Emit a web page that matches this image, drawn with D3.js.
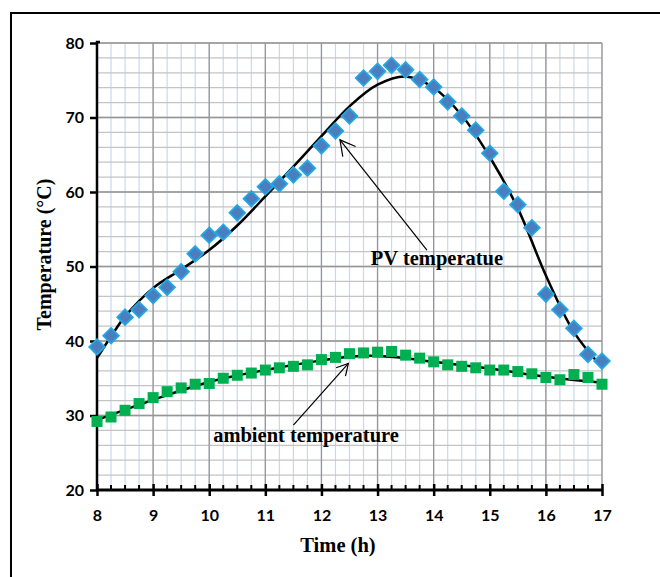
<!DOCTYPE html>
<html>
<head>
<meta charset="utf-8">
<script src="https://cdn.jsdelivr.net/npm/d3@7"></script>
<style>
  body { margin: 0; background: #fff; }
</style>
</head>
<body>
<div id="chart"></div>
<script>
// measured points, every quarter hour
var hours = [8, 8.25, 8.5, 8.75, 9, 9.25, 9.5, 9.75, 10, 10.25, 10.5, 10.75, 11, 11.25, 11.5, 11.75,
  12, 12.25, 12.5, 12.75, 13, 13.25, 13.5, 13.75, 14, 14.25, 14.5, 14.75, 15, 15.25, 15.5, 15.75,
  16, 16.25, 16.5, 16.75, 17];
var pvTemp = [39.2, 40.7, 43.2, 44.2, 46.1, 47.2, 49.3, 51.7, 54.2, 54.6, 57.2, 59.1, 60.7, 61.1, 62.3, 63.2,
  66.2, 68.2, 70.2, 75.3, 76.2, 77.0, 76.4, 75.1, 74.1, 72.1, 70.2, 68.3, 65.2, 60.1, 58.3, 55.2,
  46.3, 44.2, 41.7, 38.2, 37.3];
var ambTemp = [29.2, 29.8, 30.7, 31.6, 32.4, 33.2, 33.7, 34.2, 34.3, 35.0, 35.4, 35.7, 36.1, 36.4, 36.6, 36.8,
  37.5, 37.8, 38.3, 38.4, 38.5, 38.6, 38.1, 37.7, 37.2, 36.8, 36.6, 36.4, 36.1, 36.1, 35.9, 35.6,
  35.1, 34.8, 35.5, 35.1, 34.2];

// trend lines
var pvFitHours = [8, 8.25, 8.5, 9, 9.5, 10, 10.5, 11, 11.5, 12, 12.5, 13, 13.5, 14, 14.5, 15, 15.5, 16, 16.5, 17];
var pvFit = [37.7, 40.6, 43.3, 47.1, 49.6, 52.2, 55.5, 59.4, 63.4, 67.5, 71.5, 74.4, 75.5, 74.0, 70.3, 64.7, 57.8, 48.8, 41.2, 36.5];
var ambFitHours = [8, 9, 10, 11, 12, 12.5, 13, 13.5, 14, 15, 16, 17];
var ambFit = [29.4, 32.1, 34.5, 36.1, 37.4, 37.9, 38.0, 37.7, 37.2, 36.3, 35.2, 34.4];

var xTicks = [8, 9, 10, 11, 12, 13, 14, 15, 16, 17];
var yTicks = [20, 30, 40, 50, 60, 70, 80];

// annotations: [label, label x, label y, arrow tail x, y, arrow tip x, y] in data units
var pvNote = ["PV temperatue", 12.88, 50.2, 13.88, 52.2, 12.33, 67.0];
var ambNote = ["ambient temperature", 10.07, 26.5, 11.5, 28.7, 12.48, 37.0];

var W = 660, H = 577;
var margin = {top: 43, right: 58, bottom: 87, left: 97};

var svg = d3.select("#chart")
    .append("svg")
    .attr("width", W)
    .attr("height", H);

// outer frame (only left and top visible)
svg.append("rect")
    .attr("x", 11).attr("y", 13)
    .attr("width", 800).attr("height", 800)
    .attr("fill", "none")
    .attr("stroke", "#000")
    .attr("stroke-width", 2);

var x = d3.scaleLinear().domain([8, 17]).range([margin.left, W - margin.right]);
var y = d3.scaleLinear().domain([20, 80]).range([H - margin.bottom, margin.top]);

var g = svg.append("g");

// grid
var minorX = d3.range(8, 17.001, 0.25);
var minorY = d3.range(20, 80.001, 2);

g.selectAll(".vminor").data(minorX).enter().append("line")
    .attr("x1", d => x(d)).attr("x2", d => x(d))
    .attr("y1", y(20)).attr("y2", y(80))
    .attr("stroke", "#c9d8ee").attr("stroke-width", 1.2);
g.selectAll(".hminor").data(minorY).enter().append("line")
    .attr("x1", x(8)).attr("x2", x(17))
    .attr("y1", d => y(d)).attr("y2", d => y(d))
    .attr("stroke", "#c4c4c4").attr("stroke-width", 1.3);
g.selectAll(".vmajor").data(xTicks).enter().append("line")
    .attr("x1", d => x(d)).attr("x2", d => x(d))
    .attr("y1", y(20)).attr("y2", y(80))
    .attr("stroke", "#969696").attr("stroke-width", 1.3);
g.selectAll(".hmajor").data(yTicks).enter().append("line")
    .attr("x1", x(8)).attr("x2", x(17))
    .attr("y1", d => y(d)).attr("y2", d => y(d))
    .attr("stroke", "#969696").attr("stroke-width", 1.3);

// axes
var tickFont = "Lato, 'Open Sans', sans-serif";
var serif = "'Liberation Serif', 'Times New Roman', serif";

var yAxis = svg.append("g")
    .attr("transform", "translate(" + x(8) + ",0)")
    .call(d3.axisLeft(y).tickValues(yTicks).tickSize(7).tickPadding(6));
yAxis.select(".domain").attr("stroke-width", 2.5).attr("d", "M0," + y(20) + "V" + (y(80) - 1) + "h3");
yAxis.selectAll(".tick line").attr("stroke-width", 2.5);
yAxis.selectAll("text")
    .attr("font-family", tickFont).attr("font-weight", "bold")
    .attr("font-size", 16).attr("fill", "#000");

var xAxis = svg.append("g")
    .attr("transform", "translate(0," + y(20) + ")")
    .call(d3.axisBottom(x).tickValues(xTicks).tickSize(6).tickPadding(14));
xAxis.select(".domain").attr("stroke-width", 3).attr("d", "M" + x(8) + ",0H" + x(17));
xAxis.selectAll(".tick line").attr("y1", -6).attr("stroke-width", 2.5);
xAxis.selectAll("text")
    .attr("font-family", tickFont).attr("font-weight", "bold")
    .attr("font-size", 16).attr("fill", "#000");

// minor ticks on time axis (upward)
xAxis.selectAll(".mtick").data(minorX.filter(d => d % 1 !== 0)).enter().append("line")
    .attr("x1", d => x(d)).attr("x2", d => x(d))
    .attr("y1", 0).attr("y2", -5)
    .attr("stroke", "#000").attr("stroke-width", 2);

// axis titles
svg.append("text")
    .attr("x", 338).attr("y", 552)
    .attr("text-anchor", "middle")
    .attr("font-family", serif)
    .attr("font-weight", "bold").attr("font-size", 20.5)
    .text("Time (h)");

svg.append("text")
    .attr("transform", "translate(51," + ((y(20) + y(80)) / 2 - 12) + ") rotate(-90)")
    .attr("text-anchor", "middle")
    .attr("font-family", serif)
    .attr("font-weight", "bold").attr("font-size", 20)
    .text("Temperature (°C)");

// trend curves
var line = d3.line().curve(d3.curveCatmullRom.alpha(0.5));

svg.append("path")
    .attr("d", line(pvFitHours.map((h, i) => [x(h), y(pvFit[i])])))
    .attr("fill", "none").attr("stroke", "#000").attr("stroke-width", 2.5);
svg.append("path")
    .attr("d", line(ambFitHours.map((h, i) => [x(h), y(ambFit[i])])))
    .attr("fill", "none").attr("stroke", "#000").attr("stroke-width", 2.5);

// markers
svg.selectAll(".pv").data(hours).enter().append("path")
    .attr("transform", (d, i) => "translate(" + x(d) + "," + y(pvTemp[i]) + ")")
    .attr("d", "M0,-7.8L7.8,0L0,7.8L-7.8,0Z")
    .attr("fill", "#4a7ebf")
    .attr("stroke", "#22a8e4")
    .attr("stroke-width", 1.8);

svg.selectAll(".amb").data(hours).enter().append("rect")
    .attr("x", d => x(d) - 5.5)
    .attr("y", (d, i) => y(ambTemp[i]) - 5.5)
    .attr("width", 11).attr("height", 11)
    .attr("fill", "#00b050");

// annotations
function note(n, size) {
    var x1 = x(n[3]), y1 = y(n[4]), x2 = x(n[5]), y2 = y(n[6]);
    var a = Math.atan2(y1 - y2, x1 - x2);
    var s = 0.5;
    svg.append("line")
        .attr("x1", x1).attr("y1", y1).attr("x2", x2).attr("y2", y2)
        .attr("stroke", "#000").attr("stroke-width", 1.2);
    svg.append("path")
        .attr("d", "M" + (x2 + size * Math.cos(a - s)) + "," + (y2 + size * Math.sin(a - s)) +
            "L" + x2 + "," + y2 +
            "L" + (x2 + size * Math.cos(a + s)) + "," + (y2 + size * Math.sin(a + s)))
        .attr("fill", "none").attr("stroke", "#000").attr("stroke-width", 1.2);
    svg.append("text")
        .attr("x", x(n[1])).attr("y", y(n[2]))
        .attr("font-family", serif)
        .attr("font-weight", "bold").attr("font-size", 20.5)
        .text(n[0]);
}
note(pvNote, 17);
note(ambNote, 13);
</script>
</body>
</html>
